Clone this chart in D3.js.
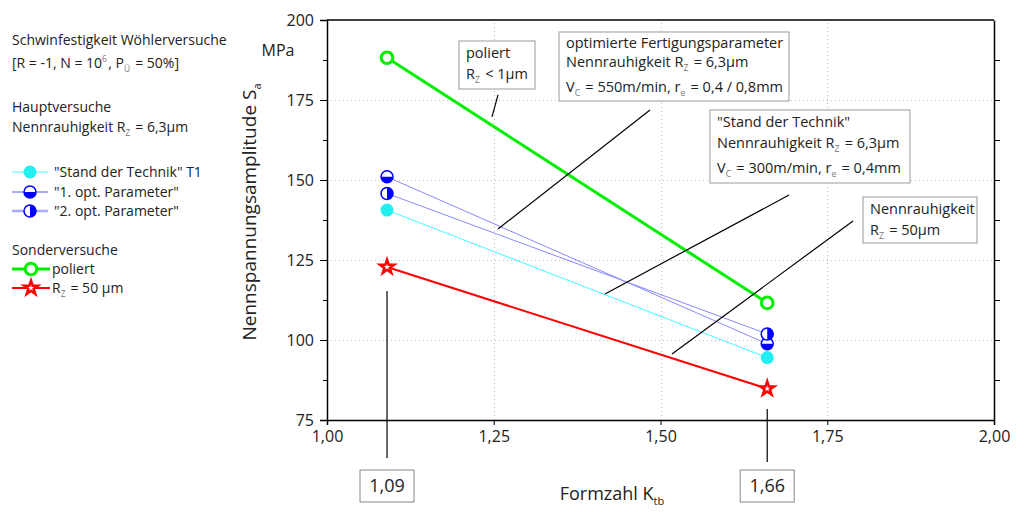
<!DOCTYPE html>
<html>
<head>
<meta charset="utf-8">
<script src="https://cdn.jsdelivr.net/npm/d3@7"></script>
<style>
  body { margin: 0; background: #fff; }
  svg { display: block; font-family: "Open Sans", sans-serif; }
</style>
</head>
<body>
<svg width="1024" height="512"></svg>
<script>
var width = 1024;
var height = 512;

// data
var kt = [1.09, 1.66];
var standT1 = [140.6, 94.5];
var opt1 = [151.0, 98.8];
var opt2 = [145.8, 101.9];
var poliert = [188.2, 111.6];
var rz50 = [122.8, 84.8];

var xTicks = [1.00, 1.25, 1.50, 1.75, 2.00];
var yTicks = [75, 100, 125, 150, 175, 200];

var svg = d3.select('svg');

var x = d3.scaleLinear().domain([1, 2]).range([327, 994]);
var y = d3.scaleLinear().domain([75, 200]).range([420, 20]);

var fmt = function(d) { return d3.format('.2f')(d).replace('.', ','); };

// grid
var grid = svg.append('g').attr('stroke', '#c0c0c0').attr('stroke-dasharray', '1,3');
grid.selectAll('.gy').data([100, 125, 150, 175]).enter().append('line')
   .attr('x1', x(1)).attr('x2', x(2))
   .attr('y1', function(d) { return y(d) + 0.5; })
   .attr('y2', function(d) { return y(d) + 0.5; });
grid.selectAll('.gx').data([1.25, 1.5, 1.75]).enter().append('line')
   .attr('y1', y(75)).attr('y2', y(200))
   .attr('x1', function(d) { return Math.round(x(d)) + 0.5; })
   .attr('x2', function(d) { return Math.round(x(d)) + 0.5; });

// axes
svg.append('g')
   .attr('transform', 'translate(0,' + y(75) + ')')
   .call(d3.axisBottom(x).tickValues(xTicks).tickFormat(fmt).tickSize(5).tickPadding(6))
   .call(function(g) {
      g.select('.domain').attr('stroke-width', 1.5);
      g.selectAll('text').attr('font-size', 16).attr('fill', '#222').attr('font-family', '"Open Sans", sans-serif');
   });

svg.append('g')
   .attr('transform', 'translate(' + x(1) + ',0)')
   .call(d3.axisLeft(y).tickValues(yTicks).tickSize(7).tickPadding(6))
   .call(function(g) {
      g.select('.domain').attr('stroke-width', 1.5);
      g.selectAll('text').attr('font-size', 16).attr('fill', '#222').attr('font-family', '"Open Sans", sans-serif');
   });

svg.append('g')
   .attr('transform', 'translate(' + x(1) + ',0)')
   .call(d3.axisLeft(y).tickValues([87.5, 112.5, 137.5, 162.5, 187.5]).tickSize(4).tickFormat(''))
   .select('.domain').remove();

svg.append('g')
   .attr('transform', 'translate(' + x(2) + ',0)')
   .call(d3.axisLeft(y).tickValues([87.5, 100, 112.5, 125, 137.5, 150, 162.5, 175, 187.5]).tickSize(-6).tickFormat('').tickSizeOuter(0))
   .select('.domain').attr('stroke-width', 1.5);

svg.append('line')
   .attr('x1', x(1)).attr('x2', x(2)).attr('y1', y(200)).attr('y2', y(200))
   .attr('stroke', '#000').attr('stroke-width', 1.5);

// axis titles
svg.append('text')
   .attr('transform', 'translate(256,212) rotate(-90)')
   .attr('text-anchor', 'middle')
   .attr('font-size', 19).attr('fill', '#222')
   .text('Nennspannungsamplitude S')
   .append('tspan').attr('font-size', 11).attr('dy', 5).text('a');

svg.append('text')
   .attr('x', 278).attr('y', 56).attr('text-anchor', 'middle')
   .attr('font-size', 16).attr('fill', '#222').text('MPa');

svg.append('text')
   .attr('x', 612).attr('y', 500).attr('text-anchor', 'middle')
   .attr('font-size', 18).attr('fill', '#222')
   .text('Formzahl K')
   .append('tspan').attr('font-size', 11).attr('dy', 5).text('tb');

// marker lines for the two Kt values
var kLines = [[291, 458], [409, 462]];
svg.selectAll('.kline').data(kt).enter().append('line')
   .attr('x1', function(d) { return x(d); }).attr('x2', function(d) { return x(d); })
   .attr('y1', function(d, i) { return kLines[i][0]; })
   .attr('y2', function(d, i) { return kLines[i][1]; })
   .attr('stroke', '#000').attr('stroke-width', 1.2);

var kBox = svg.selectAll('.kbox').data(kt).enter().append('g')
   .attr('transform', function(d) { return 'translate(' + x(d) + ',486)'; });
kBox.append('rect')
   .attr('x', -27).attr('y', -16).attr('width', 54).attr('height', 32)
   .attr('fill', '#fff').attr('stroke', '#888');
kBox.append('text')
   .attr('text-anchor', 'middle').attr('dy', 6)
   .attr('font-size', 18).attr('fill', '#222')
   .text(function(d) { return fmt(d); });

// series
var series = [
   { name: 'stand', vals: standT1, color: '#40ffff', width: 1 },
   { name: 'opt1', vals: opt1, color: '#8888ff', width: 1 },
   { name: 'opt2', vals: opt2, color: '#8888ff', width: 1 },
   { name: 'poliert', vals: poliert, color: '#00ee00', width: 3 },
   { name: 'rz50', vals: rz50, color: '#ff0000', width: 2 }
];

var line = d3.line()
   .x(function(d) { return x(d[0]); })
   .y(function(d) { return y(d[1]); });

svg.selectAll('.series').data(series).enter().append('path')
   .attr('d', function(s) { return line(d3.zip(kt, s.vals)); })
   .attr('fill', 'none')
   .attr('stroke', function(s) { return s.color; })
   .attr('stroke-width', function(s) { return s.width; });

function marker(g, type) {
   if (type == 'stand') {
      g.append('circle').attr('r', 6.5).attr('fill', '#22f0f0');
   } else if (type == 'opt1') {
      g.append('circle').attr('r', 6).attr('fill', '#fff').attr('stroke', '#0000ff').attr('stroke-width', 1.5);
      g.append('path').attr('d', 'M-6,0 A6,6 0 0,0 6,0 Z').attr('fill', '#0000ff');
   } else if (type == 'opt2') {
      g.append('circle').attr('r', 6).attr('fill', '#fff').attr('stroke', '#0000ff').attr('stroke-width', 1.5);
      g.append('path').attr('d', 'M0,-6 A6,6 0 0,1 0,6 Z').attr('fill', '#0000ff');
   } else if (type == 'poliert') {
      g.append('circle').attr('r', 5.8).attr('fill', '#fff').attr('stroke', '#00ee00').attr('stroke-width', 3);
   } else if (type == 'rz50') {
      g.append('path').attr('d', d3.symbol(d3.symbolStar, 60)())
         .attr('fill', '#fff').attr('stroke', '#ff0000').attr('stroke-width', 2.5)
         .attr('stroke-linejoin', 'miter');
   }
}

series.forEach(function(s) {
   kt.forEach(function(k, i) {
      var g = svg.append('g').attr('transform', 'translate(' + x(k) + ',' + y(s.vals[i]) + ')');
      marker(g, s.name);
   });
});

// annotations: leader lines in data units, boxes
var leaders = [
   [[1.2564, 176.6], [1.2474, 169.7]],
   [[1.4843, 171.9], [1.2564, 134.7]],
   [[1.6927, 145.3], [1.4168, 114.4]],
   [[1.7886, 137.2], [1.5172, 95.6]]
];
svg.selectAll('.leader').data(leaders).enter().append('line')
   .attr('x1', function(d) { return x(d[0][0]); }).attr('y1', function(d) { return y(d[0][1]); })
   .attr('x2', function(d) { return x(d[1][0]); }).attr('y2', function(d) { return y(d[1][1]); })
   .attr('stroke', '#000').attr('stroke-width', 1.2);

// text helper: parts are strings or {sub} / {sup}
function richText(parent, xx, yy, parts, size) {
   var t = parent.append('text').attr('x', xx).attr('y', yy)
      .attr('font-size', size).attr('fill', '#222');
   parts.forEach(function(p) {
      if (typeof p == 'string') {
         t.append('tspan').text(p);
      } else if (p.sub) {
         t.append('tspan').attr('font-size', size * 0.6).attr('dy', 4).attr('fill', '#777').text(p.sub);
         t.append('tspan').attr('dy', -4).text('\u200A');
      } else if (p.sup) {
         t.append('tspan').attr('font-size', size * 0.6).attr('dy', -6).attr('fill', '#777').text(p.sup);
         t.append('tspan').attr('dy', 6).text('\u200A');
      }
   });
   return t;
}

var boxes = [
   { x: 459, y: 41, w: 76, h: 48, lines: [['poliert'], ['R', { sub: 'Z' }, ' < 1µm']] },
   { x: 559, y: 32, w: 230, h: 69, lines: [['optimierte Fertigungsparameter'], ['Nennrauhigkeit R', { sub: 'Z' }, ' = 6,3µm'], ['V', { sub: 'C' }, ' = 550m/min, r', { sub: 'e' }, ' = 0,4 / 0,8mm']] },
   { x: 710, y: 110, w: 200, h: 73, lines: [['"Stand der Technik"'], ['Nennrauhigkeit R', { sub: 'Z' }, ' = 6,3µm'], ['V', { sub: 'C' }, ' = 300m/min, r', { sub: 'e' }, ' = 0,4mm']] },
   { x: 863, y: 197, w: 114, h: 46, lines: [['Nennrauhigkeit'], ['R', { sub: 'Z' }, ' = 50µm']] }
];
var lineOffsets = [[17, 38], [16, 35, 60], [17, 38, 63], [17, 38]];

boxes.forEach(function(b, bi) {
   svg.append('rect').attr('x', b.x).attr('y', b.y).attr('width', b.w).attr('height', b.h)
      .attr('fill', '#fff').attr('stroke', '#999');
   b.lines.forEach(function(l, li) {
      richText(svg, b.x + 7, b.y + lineOffsets[bi][li], l, 14.5);
   });
});

// legend
var leg = svg.append('g');
richText(leg, 12, 45, ['Schwinfestigkeit Wöhlerversuche'], 14);
richText(leg, 12, 68, ['[R = -1, N = 10', { sup: '6' }, ', P', { sub: 'Ü' }, ' = 50%]'], 14);
richText(leg, 12, 112, ['Hauptversuche'], 14);
richText(leg, 12, 132, ['Nennrauhigkeit R', { sub: 'Z' }, ' = 6,3µm'], 14);

var legItems = [
   { name: 'stand', label: '"Stand der Technik" T1', y: 172, color: '#40ffff', width: 1, x2: 48, tx: 54 },
   { name: 'opt1', label: '"1. opt. Parameter"', y: 192, color: '#5555ff', width: 1, x2: 48, tx: 54 },
   { name: 'opt2', label: '"2. opt. Parameter"', y: 211, color: '#aaaaff', width: 2.5, x2: 48, tx: 54 },
   { name: 'poliert', label: 'poliert', y: 269, color: '#00ee00', width: 3, x2: 50, tx: 52 },
   { name: 'rz50', label: ['R', { sub: 'Z' }, ' = 50 µm'], y: 288, color: '#ff0000', width: 2, x2: 50, tx: 52 }
];
richText(leg, 12, 255, ['Sonderversuche'], 14);

legItems.forEach(function(it) {
   leg.append('line').attr('x1', 12).attr('x2', it.x2).attr('y1', it.y).attr('y2', it.y)
      .attr('stroke', it.color).attr('stroke-width', it.width);
   var g = leg.append('g').attr('transform', 'translate(' + ((12 + it.x2) / 2) + ',' + it.y + ')');
   marker(g, it.name);
   var parts = typeof it.label == 'string' ? [it.label] : it.label;
   richText(leg, it.tx, it.y + 5, parts, 14);
});
</script>
</body>
</html>
